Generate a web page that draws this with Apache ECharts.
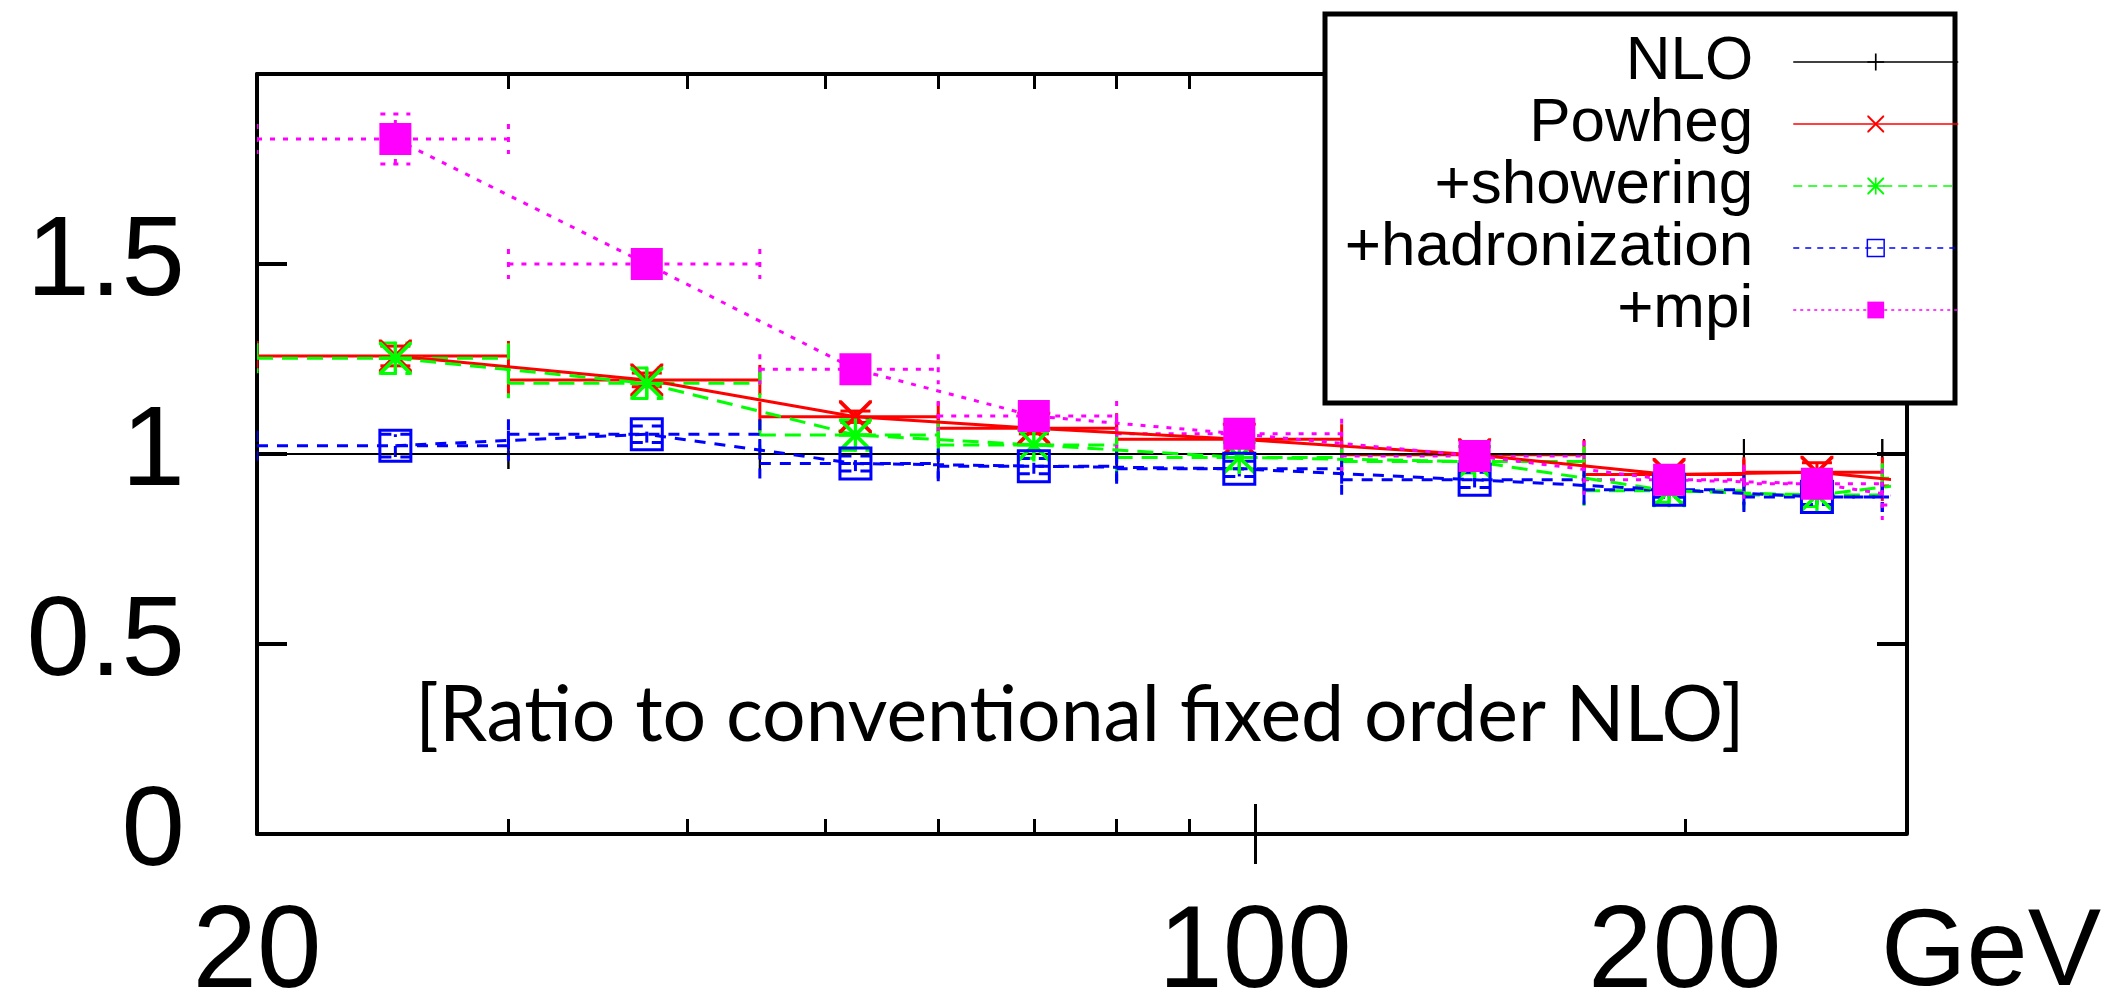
<!DOCTYPE html>
<html>
<head>
<meta charset="utf-8">
<script src="https://cdn.jsdelivr.net/npm/echarts@6/dist/echarts.min.js"></script>
<style>
html,body{margin:0;padding:0;background:#fff;}
#chart{width:2123px;height:1008px;}
</style>
</head>
<body>
<div id="chart"></div>
<script>
// ---- data ----
const binEdges   = [20, 30, 45, 60, 80, 115, 170, 220, 275, 345];
const binCenters = [25, 37.5, 52.5, 70, 97.5, 142.5, 195, 247.5, 310];

const nlo              = [1, 1, 1, 1, 1, 1, 1, 1, 1];
const nloErr           = [0, 0, 0, 0, 0, 0, 0, 0, 0];
const powheg           = [1.258, 1.195, 1.098, 1.068, 1.039, 0.998, 0.946, 0.952, 0.916];
const powhegErr        = [0.026, 0.018, 0.015, 0.015, 0.015, 0.015, 0.020, 0.025, 0.025];
const showering        = [1.252, 1.186, 1.050, 1.024, 0.991, 0.980, 0.903, 0.892, 0.936];
const showeringErr     = [0.040, 0.040, 0.040, 0.035, 0.030, 0.030, 0.030, 0.030, 0.030];
const hadronization    = [1.022, 1.052, 0.975, 0.968, 0.961, 0.932, 0.906, 0.887, 0.887];
const hadronizationErr = [0.030, 0.022, 0.020, 0.020, 0.020, 0.020, 0.020, 0.020, 0.020];
const mpi              = [1.829, 1.500, 1.223, 1.100, 1.053, 0.995, 0.932, 0.922, 0.866];
const mpiErr           = [0.066, 0.028, 0.020, 0.020, 0.020, 0.020, 0.020, 0.020, 0.020];

const seriesNames = ['NLO', 'Powheg', '+showering', '+hadronization', '+mpi'];
const xLabelValues = [20, 100, 200];
const xMinorTicks  = [30, 40, 50, 60, 70, 80, 90, 200];
const xMajorTicks  = [100];
const annotation = '[Ratio to conventional fixed order NLO]';

// ---- presentation ----
const FONT = 'Liberation Sans';
const XPATH = 'path://M0 0L8 0L100 92L100 100L92 100L0 8Z M100 0L100 8L8 100L0 100L0 92L92 0Z';
const PLUS  = 'path://M45 0L55 0L55 45L100 45L100 55L55 55L55 100L45 100L45 55L0 55L0 45L45 45Z';
const STAR  = 'path://M0 0L8 0L100 92L100 100L92 100L0 8Z M100 0L100 8L8 100L0 100L0 92L92 0Z M45 0L55 0L55 45L100 45L100 55L55 55L55 100L45 100L45 55L0 55L0 45L45 45Z';

const styles = [
  {color:'#000000', width:2, dash:'solid', legendDash:'solid', symbol:PLUS, size:2, item:{color:'#000000'}},
  {color:'#ff0000', width:3, dash:'solid', legendDash:'solid', symbol:XPATH, size:33, item:{color:'#ff0000'}},
  {color:'#00ff00', width:3, dash:[16,9], legendDash:[9,6], symbol:STAR, size:33, item:{color:'#00ff00'}},
  {color:'#0000ff', width:3, dash:[11,9], legendDash:[6,6], symbol:'rect', size:31, item:{color:'rgba(0,0,0,0)', borderColor:'#0000ff', borderWidth:3}},
  {color:'#ff00ff', width:3, dash:[5,8], legendDash:[3,4], symbol:'rect', size:32, item:{color:'#ff00ff'}}
];
const values = [nlo, powheg, showering, hadronization, mpi];
const errors = [nloErr, powhegErr, showeringErr, hadronizationErr, mpiErr];

function errRender(color, width, dash, withYBars) {
  return function (params, api) {
    const xc = api.value(0), y = api.value(1), xlo = api.value(2), xhi = api.value(3), ylo = api.value(4), yhi = api.value(5);
    const pl = api.coord([xlo, y]);
    const pr = api.coord([xhi, y]);
    const pLo = api.coord([xc, ylo]);
    const pHi = api.coord([xc, yhi]);
    const cap = 15;
    const style = {stroke: color, lineWidth: width, lineDash: dash === 'solid' ? null : dash, fill: null};
    const seg = (x1, y1, x2, y2) => ({type: 'line', shape: {x1, y1, x2, y2}, style: style});
    const children = [
      seg(pl[0], pl[1], pr[0], pr[1]),
      seg(pl[0], pl[1] - cap, pl[0], pl[1] + cap),
      seg(pr[0], pr[1] - cap, pr[0], pr[1] + cap)
    ];
    if (withYBars) {
      children.push(seg(pLo[0], pLo[1], pHi[0], pHi[1]));
      children.push(seg(pLo[0] - cap, pLo[1], pLo[0] + cap, pLo[1]));
      children.push(seg(pHi[0] - cap, pHi[1], pHi[0] + cap, pHi[1]));
    }
    return {type: 'group', children: children};
  };
}

const series = [];
seriesNames.forEach((name, i) => {
  const st = styles[i];
  const errData = binCenters.map((x, k) => [x, values[i][k], binEdges[k], binEdges[k + 1], values[i][k] - errors[i][k], values[i][k] + errors[i][k]]);
  series.push({
    name: name + ' errors', type: 'custom', xAxisIndex: 0, yAxisIndex: 0,
    renderItem: errRender(st.color, st.width, st.dash, errors[i].some(e => e > 0)),
    encode: {x: 0, y: 1}, data: errData, clip: true, silent: true
  });
  series.push({
    name: name, type: 'line', xAxisIndex: 0, yAxisIndex: 0,
    data: binCenters.map((x, k) => [x, values[i][k]]),
    symbol: st.symbol, symbolSize: st.size, showSymbol: true, showAllSymbol: true,
    lineStyle: {color: st.color, width: st.width, type: st.dash},
    itemStyle: st.item, clip: true, silent: true
  });
});

const xCommon = {type: 'log', logBase: 10, min: 20, max: 278, gridIndex: 0,
  splitLine: {show: false}, axisLabel: {show: false}, axisLine: {show: false}, axisTick: {show: false}};
const lineAx = {show: true, onZero: false, lineStyle: {color: '#000', width: 4}};

const option = {
  animation: false,
  backgroundColor: '#ffffff',
  textStyle: {fontFamily: FONT, color: '#000'},
  grid: {left: 257, right: 234, top: 74, bottom: 174, containLabel: false, outerBoundsMode: 'none'},
  xAxis: [
    Object.assign({}, xCommon, {
      position: 'bottom',
      axisLine: lineAx,
      axisTick: {show: true, inside: true, length: 15, lineStyle: {color: '#000', width: 3}, customValues: xMinorTicks},
      axisLabel: {show: true, customValues: xLabelValues, fontSize: 116, fontFamily: FONT, color: '#000', margin: 63,
        formatter: v => String(Math.round(v))},
      name: 'GeV', nameLocation: 'end', nameGap: -8,
      nameTextStyle: {fontSize: 110, fontFamily: FONT, color: '#000', align: 'left', verticalAlign: 'top', padding: [66, 0, 0, 0]}
    }),
    Object.assign({}, xCommon, {
      position: 'bottom',
      axisTick: {show: true, inside: true, length: 30, lineStyle: {color: '#000', width: 3}, customValues: xMajorTicks}
    }),
    Object.assign({}, xCommon, {
      position: 'top',
      axisLine: lineAx,
      axisTick: {show: true, inside: true, length: 15, lineStyle: {color: '#000', width: 3}, customValues: xMinorTicks}
    }),
    Object.assign({}, xCommon, {
      position: 'top',
      axisTick: {show: true, inside: true, length: 30, lineStyle: {color: '#000', width: 3}, customValues: xMajorTicks}
    })
  ],
  yAxis: [
    {type: 'value', min: 0, max: 2, interval: 0.5, position: 'left', gridIndex: 0,
      splitLine: {show: false},
      axisLine: lineAx,
      axisTick: {show: true, inside: true, length: 30, lineStyle: {color: '#000', width: 4}},
      axisLabel: {show: true, fontSize: 114, fontFamily: FONT, color: '#000', margin: 72,
        formatter: v => (v === 2 ? '' : String(v))}
    },
    {type: 'value', min: 0, max: 2, interval: 0.5, position: 'right', offset: 18, gridIndex: 0,
      splitLine: {show: false},
      axisLine: lineAx,
      axisTick: {show: true, inside: true, length: 30, lineStyle: {color: '#000', width: 4}},
      axisLabel: {show: false}
    }
  ],
  legend: {
    orient: 'vertical', right: 164, top: 31, padding: 0, itemGap: 0,
    align: 'right', itemWidth: 165, itemHeight: 21,
    textStyle: {fontSize: 62, fontFamily: FONT, color: '#000', lineHeight: 62, padding: [0, 35, 0, 0]},
    lineStyle: {width: 1.5},
    data: seriesNames.map((n, i) => ({
      name: n,
      lineStyle: {width: 1.5, type: styles[i].legendDash},
      itemStyle: i === 3 ? {borderWidth: 1.5} : {}
    }))
  },
  graphic: [
    {type: 'rect', z: 3, shape: {x: 1325, y: 14, width: 630, height: 389},
      style: {fill: '#ffffff', stroke: '#000000', lineWidth: 5}},
    {type: 'text', z: 10, x: 1080, y: 716,
      style: {text: annotation, font: '77px Lato', fill: '#000', align: 'center', verticalAlign: 'middle'}}
  ],
  series: series
};

const chart = echarts.init(document.getElementById('chart'), null, {renderer: 'canvas'});
chart.setOption(option);
</script>
</body>
</html>
